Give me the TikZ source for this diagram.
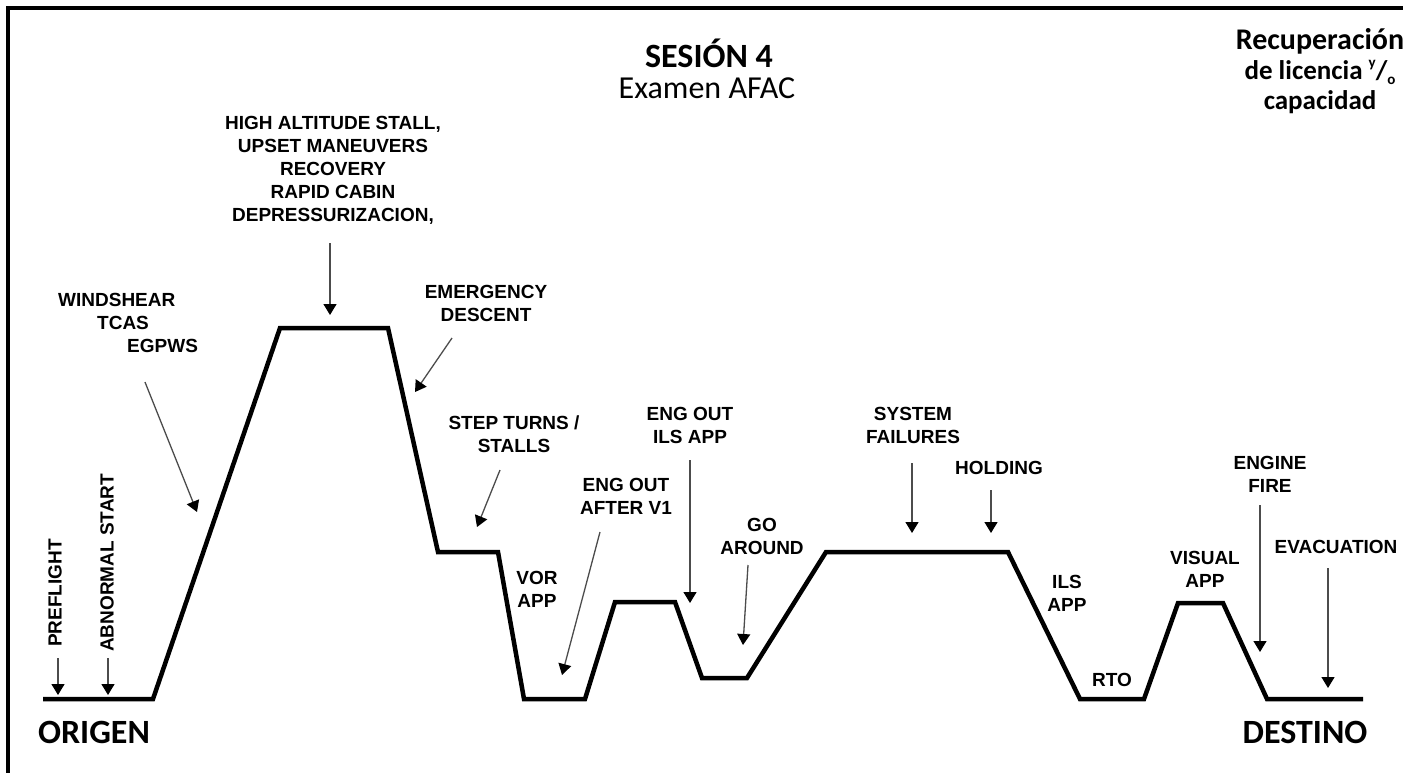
\documentclass[tikz,border=0pt]{standalone}
\usepackage{fontspec}
\setmainfont{Liberation Sans}
\newfontfamily\calibfont{Carlito}
\usetikzlibrary{arrows.meta}
\tikzset{
  lbl/.style={font=\bfseries\fontsize{19}{23}\selectfont, align=center, inner sep=0pt, anchor=north},
  big/.style={font=\calibfont\bfseries\fontsize{34}{40}\selectfont, inner sep=0pt, anchor=base},
  profile/.style={line width=4.5pt},
  pointer/.style={draw=black!70, line width=1.3pt, -{Triangle[width=13pt,length=11pt,color=black]}}
}
\begin{document}
\begin{tikzpicture}[x=1pt,y=-1pt]
  \useasboundingbox (0,0) rectangle (1403,772);
  \draw[line width=3.5pt] (8,790) -- (8,8) -- (1420,8);
  \draw[profile] (43,699) -- (153,699) -- (280,328) -- (388,328) -- (438,552) -- (498,552)
    -- (524,699) -- (585,699) -- (615,602) -- (675,602) -- (702,678) -- (747,678)
    -- (826,552) -- (1008,552) -- (1080,699) -- (1144,699) -- (1178,603) -- (1223,603)
    -- (1267,699) -- (1363,699);
  \path
    (709,67) node[big] (ses){SESIÓN 4}
    (707,98) node[big, font=\calibfont\fontsize{32}{38}\selectfont] (exa){Examen AFAC}
    (94,743) node[big] (ori){ORIGEN}
    (1305,743) node[big] (des){DESTINO}
    (1320,28) node[anchor=north, align=center, inner sep=0pt,
      font=\calibfont\bfseries\fontsize{27}{30}\selectfont] (rec){{\fontsize{30}{30}\selectfont Recuperación}\\de licencia
      \raisebox{0.45em}{\fontsize{15}{15}\selectfont y}/\raisebox{-0.2em}{\fontsize{15}{15}\selectfont o}\\capacidad};
  \path
    (55,647) node[lbl, anchor=west, rotate=90] (pre){PREFLIGHT}
    (107,652) node[lbl, anchor=west, rotate=90] (abn){ABNORMAL START}
    (58,293) node[lbl, anchor=north west, align=left] (wind){WINDSHEAR\\\hspace*{39pt}TCAS\\\hspace*{69pt}EGPWS}
    (333,116) node[lbl] (high){HIGH ALTITUDE STALL,\\UPSET MANEUVERS\\RECOVERY\\RAPID CABIN\\DEPRESSURIZACION,}
    (486,285) node[lbl] (emer){EMERGENCY\\DESCENT}
    (514,416) node[lbl] (step){STEP TURNS /\\STALLS}
    (537,571) node[lbl] (vor){VOR\\APP}
    (626,478) node[lbl] (eov){ENG OUT\\AFTER V1}
    (690,407) node[lbl] (eoils){ENG OUT\\ILS APP}
    (762,518) node[lbl] (goa){GO\\AROUND}
    (913,407) node[lbl] (sys){SYSTEM\\FAILURES}
    (999,461) node[lbl] (hold){HOLDING}
    (1067,575) node[lbl] (ils){ILS\\APP}
    (1112,673) node[lbl] (rto){RTO}
    (1205,551) node[lbl] (vis){VISUAL\\APP}
    (1270,456) node[lbl] (fire){ENGINE\\FIRE}
    (1336,540) node[lbl] (evac){EVACUATION};
  \path
    (58,658) coordinate (preA) (58,695) coordinate (preB)
    (108,658) coordinate (abnA) (108,695) coordinate (abnB)
    (145,382) coordinate (windA) (197,512) coordinate (windB)
    (330,243) coordinate (highA) (330,315) coordinate (highB)
    (452,338) coordinate (emerA) (415,392) coordinate (emerB)
    (500,470) coordinate (stepA) (477,527) coordinate (stepB)
    (600,532) coordinate (eovA) (562,675) coordinate (eovB)
    (690,460) coordinate (eoilsA) (690,603) coordinate (eoilsB)
    (748,565) coordinate (goaA) (743,645) coordinate (goaB)
    (912,463) coordinate (sysA) (912,533) coordinate (sysB)
    (991,490) coordinate (holdA) (991,533) coordinate (holdB)
    (1260,505) coordinate (fireA) (1260,652) coordinate (fireB)
    (1328,568) coordinate (evacA) (1328,688) coordinate (evacB);
  \begin{scope}[pointer]
    \draw (preA) to (preB);
    \draw (abnA) to (abnB);
    \draw (windA) to (windB);
    \draw (highA) to (highB);
    \draw (emerA) to (emerB);
    \draw (stepA) to (stepB);
    \draw (eovA) to (eovB);
    \draw (eoilsA) to (eoilsB);
    \draw (goaA) to (goaB);
    \draw (sysA) to (sysB);
    \draw (holdA) to (holdB);
    \draw (fireA) to (fireB);
    \draw (evacA) to (evacB);
  \end{scope}
\end{tikzpicture}
\end{document}
